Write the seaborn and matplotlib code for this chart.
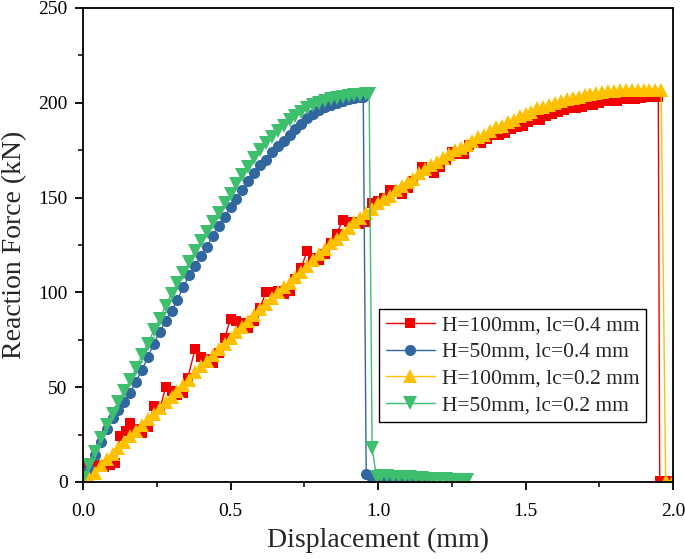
import matplotlib
matplotlib.use('Agg')
import matplotlib.pyplot as plt
import numpy as np
import pandas as pd
import seaborn as sns
from matplotlib.ticker import MultipleLocator, AutoMinorLocator

# ---- data ----
# H=100mm, lc=0.4 mm (red, staircase-like)
x_h100_lc04 = [0.00, 0.01, 0.03, 0.05, 0.07, 0.09, 0.11, 0.125, 0.145, 0.16,
               0.18, 0.20, 0.22, 0.24, 0.26, 0.28, 0.30, 0.32, 0.34, 0.355,
               0.38, 0.40, 0.42, 0.44, 0.46, 0.48, 0.50, 0.52, 0.54, 0.56,
               0.58, 0.60, 0.62, 0.64, 0.66, 0.68, 0.70, 0.72, 0.74, 0.76,
               0.78, 0.80, 0.82, 0.84, 0.86, 0.88, 0.90, 0.92, 0.94, 0.96,
               0.98, 1.00, 1.02, 1.04, 1.06, 1.08, 1.10, 1.12, 1.15, 1.17,
               1.19, 1.21, 1.23, 1.25, 1.27, 1.29, 1.31, 1.33, 1.35, 1.37,
               1.39, 1.41, 1.43, 1.45, 1.47, 1.49, 1.51, 1.53, 1.55, 1.57,
               1.59, 1.61, 1.63, 1.65, 1.67, 1.69, 1.71, 1.73, 1.75, 1.77,
               1.79, 1.81, 1.83, 1.85, 1.87, 1.89, 1.91, 1.93, 1.95, 1.955,
               1.99]
f_h100_lc04 = [2, 10, 9, 9, 8, 9, 10, 24, 27, 31,
               28, 26, 29, 40, 38, 50, 48, 46, 47, 55,
               70, 66, 65, 63, 68, 76, 86, 85, 84, 81,
               85, 92, 100, 100, 101, 99, 101, 107, 113, 122,
               118, 117, 120, 126, 131, 138, 137, 137, 136, 137,
               147, 148, 150, 154, 153, 152, 155, 159, 166, 164,
               163, 166, 170, 174, 173, 173, 178, 179, 179, 181,
               183, 183, 184, 186, 187, 188, 190, 191, 191, 193,
               194, 195, 196, 197, 197, 198, 199, 199, 200, 201,
               201, 201, 202, 202, 202, 202.5, 203, 203, 203, 0.5,
               0.5]

# H=50mm, lc=0.4 mm (blue)
x_h50_lc04 = [0.00, 0.02, 0.04, 0.06, 0.08, 0.10, 0.12, 0.14, 0.16, 0.18,
              0.20, 0.22, 0.24, 0.26, 0.28, 0.30, 0.32, 0.34, 0.36, 0.38,
              0.40, 0.42, 0.44, 0.46, 0.48, 0.50, 0.52, 0.54, 0.56, 0.58,
              0.60, 0.62, 0.64, 0.66, 0.68, 0.70, 0.72, 0.74, 0.76, 0.78,
              0.80, 0.82, 0.84, 0.86, 0.88, 0.90, 0.92, 0.94, 0.95, 0.96,
              0.98, 1.00, 1.02, 1.04, 1.06, 1.08, 1.10, 1.12, 1.14, 1.16]
f_h50_lc04 = [1, 7, 14, 21, 28, 34, 38, 42, 47, 53,
              59, 66, 73, 79, 85, 90, 96, 103, 109, 114,
              119, 124, 130, 135, 140, 145, 149, 154, 159, 163,
              167, 170, 174, 177, 180, 183, 186, 189, 192, 194,
              196, 198, 199, 200, 201, 202, 202.5, 203, 203, 4,
              2, 1.8, 1.6, 1.5, 1.5, 1.4, 1.3, 1.2, 1.2, 1.1]

# H=100mm, lc=0.2 mm (yellow)
x_h100_lc02 = [0.00, 0.02, 0.04, 0.06, 0.08, 0.10, 0.12, 0.14, 0.16, 0.18,
               0.20, 0.22, 0.24, 0.26, 0.28, 0.30, 0.32, 0.34, 0.36, 0.38,
               0.40, 0.42, 0.44, 0.46, 0.48, 0.50, 0.52, 0.54, 0.56, 0.58,
               0.60, 0.62, 0.64, 0.66, 0.68, 0.70, 0.72, 0.74, 0.76, 0.78,
               0.80, 0.82, 0.84, 0.86, 0.88, 0.90, 0.92, 0.94, 0.96, 0.98,
               1.00, 1.02, 1.04, 1.06, 1.08, 1.10, 1.12, 1.14, 1.16, 1.18,
               1.20, 1.22, 1.24, 1.26, 1.28, 1.30, 1.32, 1.34, 1.36, 1.38,
               1.40, 1.42, 1.44, 1.46, 1.48, 1.50, 1.52, 1.54, 1.56, 1.58,
               1.60, 1.62, 1.64, 1.66, 1.68, 1.70, 1.72, 1.74, 1.76, 1.78,
               1.80, 1.82, 1.84, 1.86, 1.88, 1.90, 1.92, 1.94, 1.96, 1.975,
               2.00]
f_h100_lc02 = [0, 2, 5, 9, 12, 15, 18, 21, 24, 27,
               30, 33, 36, 39, 42, 45, 48, 51, 54, 58,
               61, 64, 67, 70, 73, 76, 79, 82, 85, 88,
               91, 94, 97, 100, 103, 105, 108, 111, 114, 117,
               120, 123, 126, 128, 131, 134, 137, 139, 142, 144,
               147, 149, 151, 154, 156, 158, 160, 163, 165, 167,
               169, 171, 173, 175, 176, 178, 180, 182, 183, 185,
               187, 188, 190, 191, 193, 194, 195, 197, 198, 199,
               200, 201, 202, 202.5, 203, 204, 204.5, 205, 205.5, 206,
               206, 206.5, 206.5, 207, 207, 207, 207, 207, 207, 0.5,
               0.5]

# H=50mm, lc=0.2 mm (green)
x_h50_lc02 = [0.00, 0.02, 0.04, 0.06, 0.08, 0.10, 0.12, 0.14, 0.16, 0.18,
              0.20, 0.22, 0.24, 0.26, 0.28, 0.30, 0.32, 0.34, 0.36, 0.38,
              0.40, 0.42, 0.44, 0.46, 0.48, 0.50, 0.52, 0.54, 0.56, 0.58,
              0.60, 0.62, 0.64, 0.66, 0.68, 0.70, 0.72, 0.74, 0.76, 0.78,
              0.80, 0.82, 0.84, 0.86, 0.88, 0.90, 0.92, 0.94, 0.96, 0.97,
              0.98, 0.995, 1.01, 1.03, 1.05, 1.07, 1.09, 1.11, 1.13, 1.15,
              1.17, 1.19, 1.21, 1.23, 1.25, 1.27, 1.29, 1.30]
f_h50_lc02 = [2, 9, 16, 23, 30, 36, 42, 48, 54, 60,
              67, 73, 80, 86, 93, 99, 105, 110, 116, 122,
              127, 132, 137, 142, 147, 152, 157, 162, 166, 171,
              175, 179, 182, 185, 188, 191, 193, 195, 197, 199,
              200, 201, 202, 202.5, 203, 203.5, 204, 204, 204.5, 204.5,
              18, 2.5, 3, 3, 2.8, 2.6, 2.5, 2.4, 2.2, 2.0,
              1.8, 1.7, 1.5, 1.4, 1.3, 1.2, 1.0, 1.0]

labels = ['H=100mm, lc=0.4 mm', 'H=50mm, lc=0.4 mm',
          'H=100mm, lc=0.2 mm', 'H=50mm, lc=0.2 mm']
colors = ['#F00000', '#31679E', '#FFC000', '#3DBF6E']
markers = ['s', 'o', '^', 'v']
sizes = [7.5, 8, 9.5, 9.5]
series = [(x_h100_lc04, f_h100_lc04), (x_h50_lc04, f_h50_lc04),
          (x_h100_lc02, f_h100_lc02), (x_h50_lc02, f_h50_lc02)]

sns.set_style('ticks')
plt.rcParams['font.family'] = ['Liberation Serif', 'DejaVu Serif']

fig = plt.figure(figsize=(6.85, 5.59), dpi=100)
ax = fig.add_axes([83 / 685, 1 - 482 / 559, 590 / 685, 474 / 559])

for (xs, ys), lab, c, m, s in zip(series, labels, colors, markers, sizes):
    df = pd.DataFrame({'Displacement': xs, 'Force': ys})
    sns.lineplot(data=df, x='Displacement', y='Force', ax=ax, color=c,
                 marker=m, markersize=s, markeredgewidth=0, linewidth=1.0,
                 sort=False, estimator=None, label=lab)

ax.set_xlim(0, 2.0)
ax.set_ylim(0, 250)
ax.xaxis.set_major_locator(MultipleLocator(0.5))
ax.xaxis.set_minor_locator(AutoMinorLocator(2))
ax.yaxis.set_major_locator(MultipleLocator(50))
ax.yaxis.set_minor_locator(AutoMinorLocator(2))
ax.xaxis.set_major_formatter(matplotlib.ticker.FormatStrFormatter('%.1f'))

for sp in ax.spines.values():
    sp.set_linewidth(1.3)
    sp.set_color('black')
ax.tick_params(which='major', direction='out', length=6, width=1.3,
               labelsize=14, pad=5, colors='black')
ax.tick_params(axis='x', which='major', pad=9)
ax.tick_params(which='minor', direction='out', length=3.5, width=1.3)

ax.set_xlabel('Displacement (mm)', fontsize=20, labelpad=6)
ax.set_ylabel('Reaction Force (kN)', fontsize=20, labelpad=8)

leg = ax.legend(loc='upper left', bbox_to_anchor=(0.502, 0.365),
                fontsize=15.5, frameon=True, fancybox=False, framealpha=1,
                edgecolor='black', handlelength=2.3, labelspacing=0.3,
                borderpad=0.3, handletextpad=0.3, borderaxespad=0)
leg.get_frame().set_linewidth(1.0)

fig.savefig('out.png', dpi=100)
